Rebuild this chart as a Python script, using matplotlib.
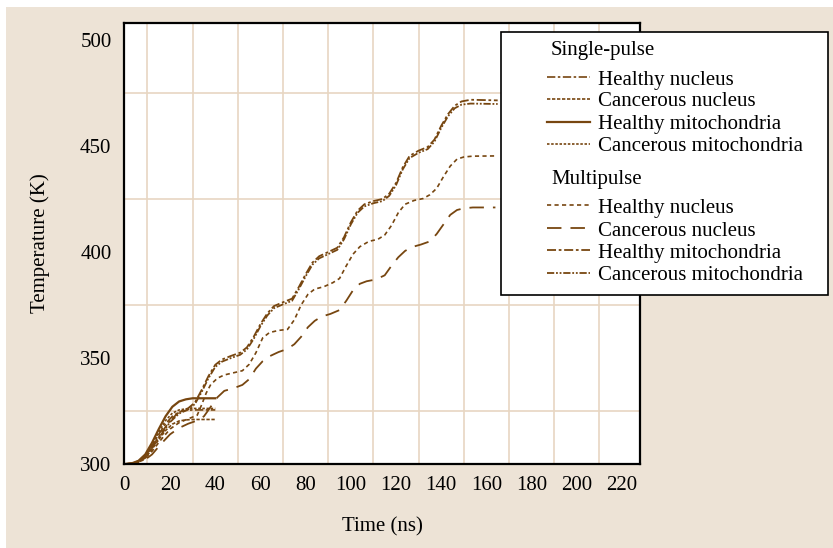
import matplotlib
matplotlib.use("Agg")
import matplotlib.pyplot as plt
from matplotlib.lines import Line2D
from matplotlib.patches import Rectangle

plt.rcParams['font.family'] = ['Liberation Serif', 'DejaVu Serif']

BROWN = '#774610'
BEIGE = '#ede3d6'
GRID = '#e8d6c2'
FS = 15

# single-pulse runs (0-40 ns)
sp_time = [0, 3, 6, 9, 12, 15, 18, 21, 24, 27, 30, 35, 40]
sp_healthy_nucleus = [300, 300.2, 301.2, 303.5, 308.5, 314, 319, 322.5, 324.5, 325.3, 325.5, 325.5, 325.5]
sp_cancer_nucleus = [300, 300.1, 301, 302.8, 307, 311.5, 315.8, 318.8, 320.3, 320.8, 321, 321, 321]
sp_healthy_mito = [300, 300.3, 301.5, 304.5, 310, 316.5, 322.5, 327, 329.5, 330.5, 331, 331, 331]
sp_cancer_mito = [300, 300.2, 301.3, 304, 309, 315, 320.5, 324, 325.5, 326, 326.2, 326.2, 326.2]

# multipulse runs (0-165 ns)
mp_nuc_h_time = [0, 4, 8, 12, 16, 20, 24, 28, 32, 34, 36, 38, 41, 44, 48, 52, 55, 58, 61, 64, 68,
                 72, 75, 78, 81, 84, 88, 92, 95, 98, 101, 104, 108, 112, 115, 118, 121, 124, 128,
                 132, 135, 138, 141, 144, 147, 150, 154, 164]
mp_healthy_nucleus = [300, 300.3, 301.8, 306, 311.5, 316.5, 319.5, 321.3, 323, 328, 333.5, 337.5,
                      340.5, 342, 343, 344, 347, 352.5, 359.5, 362, 363, 363.5, 368, 375, 380,
                      382.5, 383.6, 385.5, 387.5, 393.5, 399, 402.5, 405, 406, 408, 412.5, 418.5,
                      422.5, 424.3, 425.2, 427, 430, 435.5, 440.5, 443.8, 444.8, 445.2, 445.3]

mp_nuc_c_time = [0, 4, 8, 12, 16, 20, 24, 28, 32, 35, 38, 41, 44, 48, 52, 55, 58, 61, 64, 68, 72,
                 75, 78, 81, 84, 87, 91, 95, 98, 101, 104, 107, 111, 115, 118, 121, 124, 127, 131,
                 135, 138, 141, 144, 147, 150, 154, 164]
mp_cancer_nucleus = [300, 300.2, 301.3, 304.5, 309.5, 314, 317, 319, 320.5, 322.5, 327, 331.5,
                     334.5, 335.7, 337.3, 340, 345, 348.5, 350.8, 352.8, 354.3, 356.5, 360, 364.5,
                     367.5, 369.5, 370.8, 372.6, 377, 382, 385, 386.2, 387, 389, 393.5, 397.5,
                     400.5, 402.3, 403.5, 405, 408.5, 413, 417.5, 419.8, 420.6, 421, 421]

mp_mito_time = [0, 4, 8, 12, 16, 20, 24, 28, 31, 34, 37, 40, 43, 47, 51, 54, 57, 60, 63, 66, 70,
                74, 77, 80, 83, 86, 90, 94, 97, 100, 103, 106, 110, 114, 117, 120, 123, 126, 130,
                134, 137, 140, 143, 146, 149, 153, 165]
mp_healthy_mito = [300, 300.4, 302.5, 308, 314.5, 320.5, 324.5, 326.3, 329, 335, 341.5, 346.8,
                   349.3, 351, 352.5, 355, 360, 366, 371, 374.5, 376.3, 378, 383.5, 389.5, 395,
                   398, 400, 402, 407, 414, 419.5, 422.5, 424, 425, 427.5, 432.5, 440, 445.3,
                   447.8, 449.5, 453, 459.5, 465, 469, 471, 471.8, 471.5]
mp_cancer_mito = [300, 300.3, 302.2, 307.5, 313.8, 319.8, 323.8, 325.7, 328.3, 334, 340.5, 345.8,
                  348.3, 350, 351.5, 354, 359, 365, 370, 373.5, 375.3, 377, 382.5, 388.5, 394,
                  397, 399, 401, 406, 413, 418.5, 421.5, 423, 424, 426.5, 431.5, 439, 444.3,
                  446.8, 448.5, 452, 458.5, 464, 467.8, 469.5, 470, 469.8]

labels = ['Healthy nucleus', 'Cancerous nucleus', 'Healthy mitochondria', 'Cancerous mitochondria']
sp_styles = [(0, (5, 1.5, 1.5, 1.5)), (0, (2, 1)), '-', (0, (1.5, 1))]
mp_styles = [(0, (2.5, 2)), (0, (8, 5)), (0, (5, 1.5, 1.5, 1.5)), (0, (4, 1, 1, 1, 1, 1))]
sp_widths = [1.2, 1.2, 1.6, 1.2]
mp_widths = [1.2, 1.3, 1.3, 1.3]

sp_series = [sp_healthy_nucleus, sp_cancer_nucleus, sp_healthy_mito, sp_cancer_mito]
mp_series = [(mp_nuc_h_time, mp_healthy_nucleus), (mp_nuc_c_time, mp_cancer_nucleus),
             (mp_mito_time, mp_healthy_mito), (mp_mito_time, mp_cancer_mito)]

W, H = 833, 548
fig = plt.figure(figsize=(W / 100, H / 100), dpi=100, facecolor='white')
fig.add_artist(Rectangle((6 / W, 0), 1, 1 - 7 / H, transform=fig.transFigure,
                         facecolor=BEIGE, edgecolor='none', zorder=-10))

ax = fig.add_axes([124 / W, 1 - 464 / H, (640 - 124) / W, (464 - 23) / H])
ax.set_facecolor('white')

for y, ls, lw in zip(sp_series, sp_styles, sp_widths):
    ax.plot(sp_time, y, color=BROWN, linestyle=ls, linewidth=lw)
for (t, y), ls, lw in zip(mp_series, mp_styles, mp_widths):
    ax.plot(t, y, color=BROWN, linestyle=ls, linewidth=lw)

ax.set_xlim(-0.4, 228)
ax.set_ylim(300, 508)
ax.set_xticks(range(0, 221, 20))
ax.set_yticks(range(300, 501, 50))
ax.set_xticks(range(10, 211, 10), minor=True)
ax.set_yticks(range(325, 476, 25), minor=True)
ax.grid(which='minor', color=GRID, linewidth=1.2)
ax.set_axisbelow(True)
ax.tick_params(which='both', length=0, labelsize=FS, pad=9)
for s in ax.spines.values():
    s.set_linewidth(1.6)
    s.set_color('black')

ax.set_xlabel('Time (ns)', fontsize=FS, labelpad=16)
ax.set_ylabel('Temperature (K)', fontsize=FS, labelpad=22)


# legend box drawn in figure pixels (top-left origin)
def fx(px):
    return px / W


def fy(py):
    return 1 - py / H


fig.add_artist(Rectangle((fx(501), fy(295)), fx(828) - fx(501), fy(32) - fy(295),
                         transform=fig.transFigure, facecolor='white', edgecolor='black',
                         linewidth=1.2, zorder=5))

rows = [('Single-pulse', 50, None)]
rows += [(lab, y, (ls, lw)) for lab, y, ls, lw in zip(labels, [80, 102, 125, 147], sp_styles, sp_widths)]
rows += [('Multipulse', 179, None)]
rows += [(lab, y, (ls, lw)) for lab, y, ls, lw in zip(labels, [208, 231, 253, 276], mp_styles, mp_widths)]

for text, py, style in rows:
    if style is None:
        fig.text(fx(551), fy(py), text, fontsize=FS, va='center', ha='left', zorder=6)
    else:
        ls, lw = style
        fig.add_artist(Line2D([fx(547), fx(590)], [fy(py - 3), fy(py - 3)], color=BROWN,
                              linestyle=ls, linewidth=lw, transform=fig.transFigure, zorder=6))
        fig.text(fx(598), fy(py), text, fontsize=FS, va='center', ha='left', zorder=6)

fig.savefig('out.png', dpi=100, facecolor=fig.get_facecolor())
